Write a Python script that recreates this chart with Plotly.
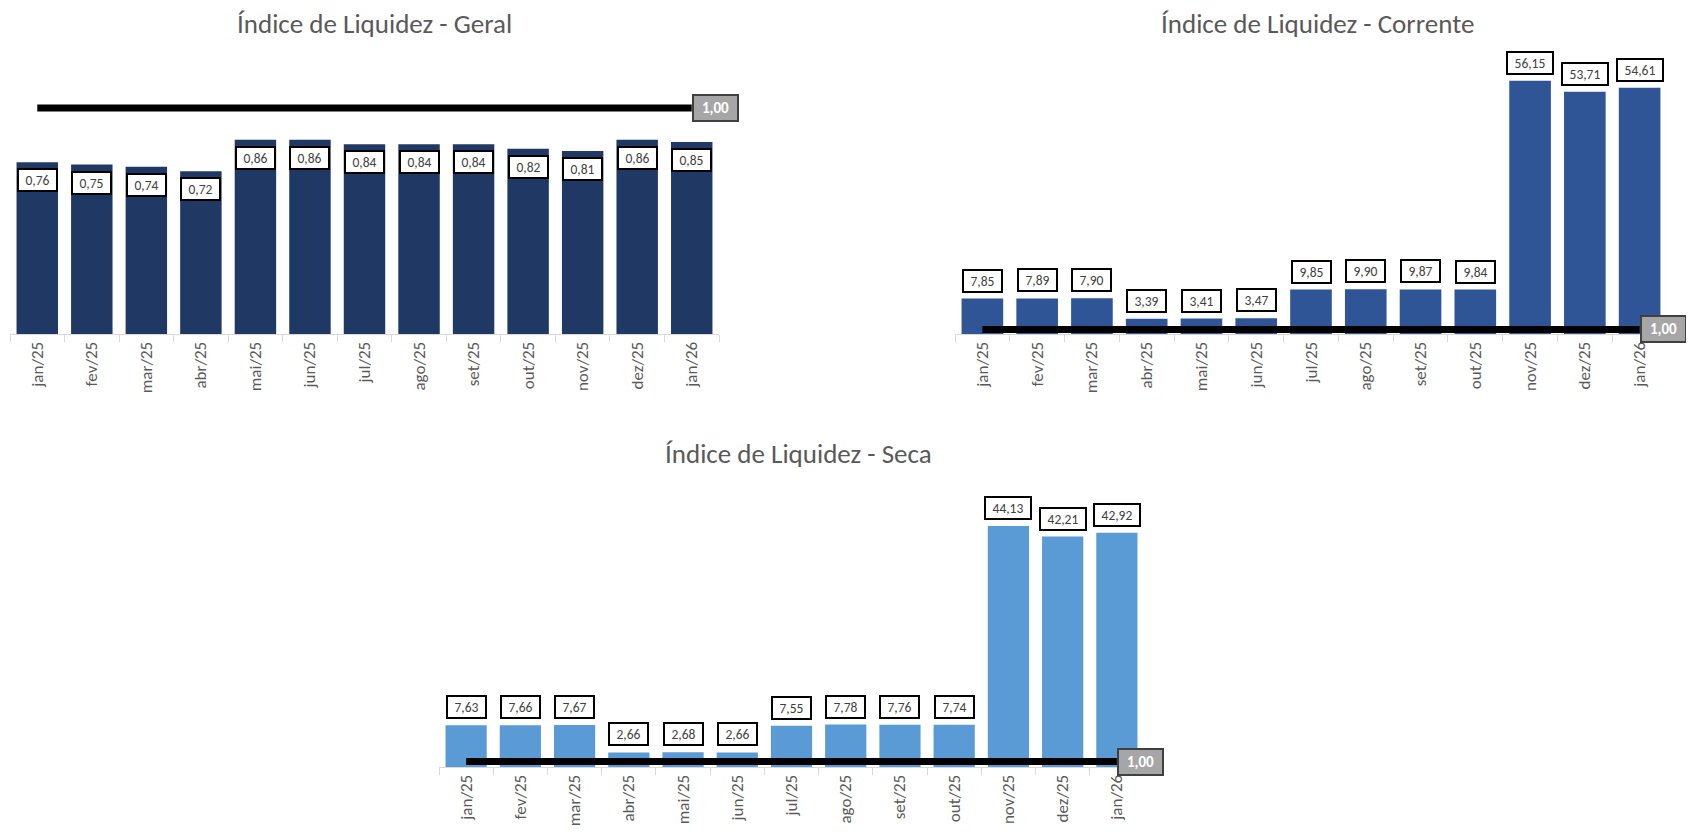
import plotly.graph_objects as go

W, H = 1694, 834

meses = ["jan/25", "fev/25", "mar/25", "abr/25", "mai/25", "jun/25", "jul/25",
         "ago/25", "set/25", "out/25", "nov/25", "dez/25", "jan/26"]
geral = [0.76, 0.75, 0.74, 0.72, 0.86, 0.86, 0.84, 0.84, 0.84, 0.82, 0.81, 0.86, 0.85]
corrente = [7.85, 7.89, 7.90, 3.39, 3.41, 3.47, 9.85, 9.90, 9.87, 9.84, 56.15, 53.71, 54.61]
seca = [7.63, 7.66, 7.67, 2.66, 2.68, 2.66, 7.55, 7.78, 7.76, 7.74, 44.13, 42.21, 42.92]
referencia = [1.0] * len(meses)
titulos = ["Índice de Liquidez - Geral", "Índice de Liquidez - Corrente", "Índice de Liquidez - Seca"]

FONT = "Carlito, Lato, sans-serif"
GRAY_TXT = "#595959"

# panel layout (pixels)
panels = [
    dict(vals=geral, color="#203864", x0=2, x1=711, base=326, top=46, pxu=226, inside=True,
         tx=366, ty=16, title=titulos[0]),
    dict(vals=corrente, color="#2F5597", x0=947, x1=1659, base=326, top=46, pxu=4.51, inside=False,
         tx=1309, ty=16, title=titulos[1]),
    dict(vals=seca, color="#5B9BD5", x0=431, x1=1136, base=759, top=462, pxu=5.46, inside=False,
         tx=790, ty=445, title=titulos[2]),
]

def fmt(v):
    return f"{v:.2f}".replace(".", ",")

fig = go.Figure()
annotations = []
layout = dict(
    width=W, height=H, margin=dict(l=0, r=0, t=0, b=0),
    paper_bgcolor="white", plot_bgcolor="white", showlegend=False,
    bargap=0.24, font=dict(family=FONT, color=GRAY_TXT),
)

for i, p in enumerate(panels, start=1):
    xa = "x" if i == 1 else f"x{i}"
    ya = "y" if i == 1 else f"y{i}"
    xkey = "xaxis" if i == 1 else f"xaxis{i}"
    ykey = "yaxis" if i == 1 else f"yaxis{i}"
    fig.add_trace(go.Bar(x=meses, y=p["vals"], marker=dict(color=p["color"], line=dict(width=0)),
                         xaxis=xa, yaxis=ya, hoverinfo="skip"))
    fig.add_trace(go.Scatter(x=meses, y=referencia, mode="lines",
                             line=dict(color="black", width=7), xaxis=xa, yaxis=ya,
                             hoverinfo="skip", cliponaxis=False))
    yrange_top = (p["base"] - p["top"]) / p["pxu"]
    layout[xkey] = dict(
        domain=[p["x0"] / W, p["x1"] / W], anchor=ya, type="category",
        range=[-0.5, len(meses) - 0.5],
        showline=True, linecolor="#D9D9D9", linewidth=1,
        ticks="outside", tickson="boundaries", ticklen=7, tickcolor="#D9D9D9",
        tickangle=-90, tickfont=dict(size=17, color=GRAY_TXT, family=FONT),
        showgrid=False, zeroline=False, fixedrange=True,
    )
    layout[ykey] = dict(
        domain=[1 - p["base"] / H, 1 - p["top"] / H], anchor=xa,
        range=[0, yrange_top], visible=False, fixedrange=True,
    )
    # value labels
    for m, v in zip(meses, p["vals"]):
        txt = fmt(v)
        annotations.append(dict(
            x=m, y=v, xref=xa, yref=ya, text=txt, showarrow=False,
            xanchor="center", yanchor="top" if p["inside"] else "bottom",
            yshift=-6 if p["inside"] else 6,
            font=dict(size=13.5, color="#404040", family=FONT),
            bgcolor="white", bordercolor="black", borderwidth=2, borderpad=2,
            width=33 if len(txt) <= 4 else 40, height=16,
        ))
    # reference label at the last point
    annotations.append(dict(
        x=meses[-1], y=referencia[-1], xref=xa, yref=ya, text="<b>" + fmt(referencia[-1]) + "</b>",
        showarrow=False, xanchor="left", yanchor="middle",
        font=dict(size=15, color="white", family=FONT),
        bgcolor="#A6A6A6", bordercolor="#404040", borderwidth=2, borderpad=2,
        width=39, height=20,
    ))
    # title
    annotations.append(dict(
        x=p["tx"] / W, y=1 - p["ty"] / H, xref="paper", yref="paper", text=p["title"],
        showarrow=False, xanchor="center", yanchor="middle",
        font=dict(size=27, color=GRAY_TXT, family=FONT),
    ))

layout["annotations"] = annotations
fig.update_layout(**layout)
fig.write_html("out.html")
